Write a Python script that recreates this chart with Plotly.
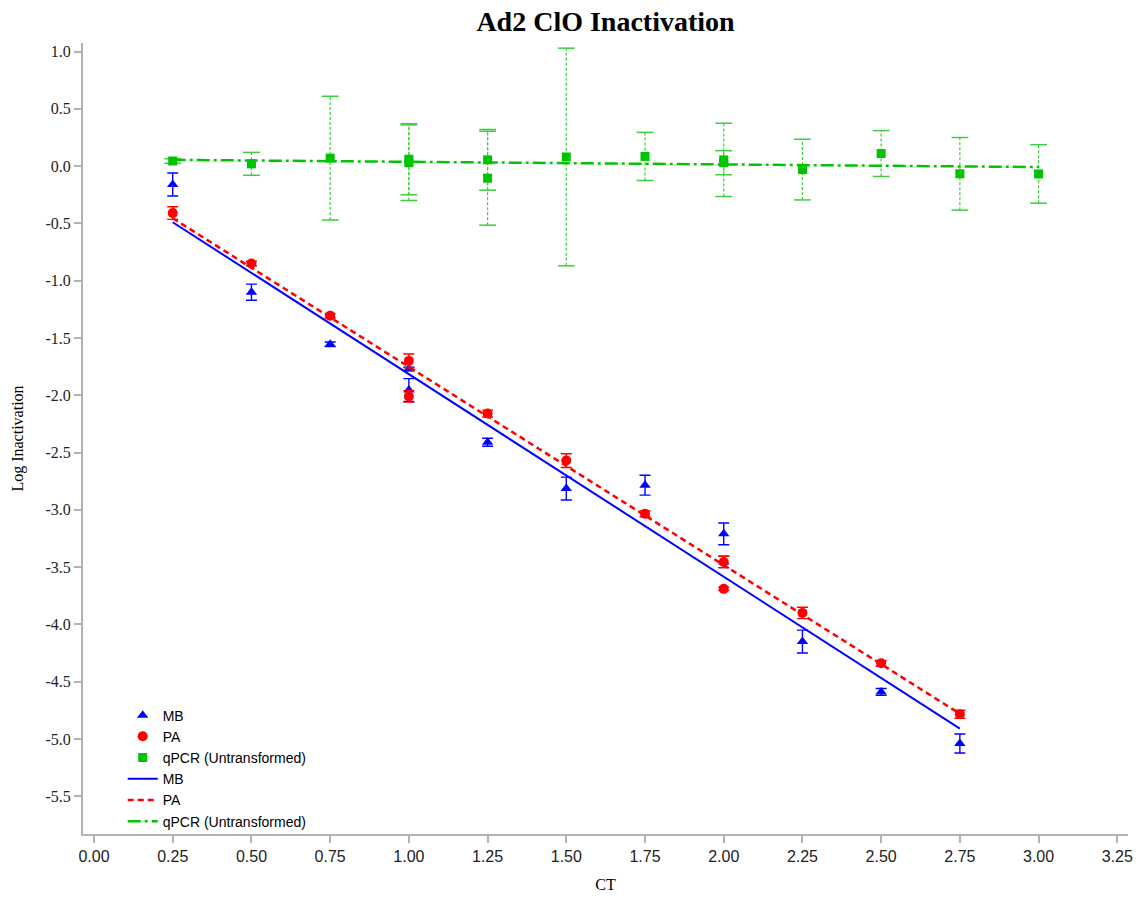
import plotly.graph_objects as go

# ---- data -------------------------------------------------------------
# MB (triangles)
mb_ct = [0.25, 0.50, 0.75, 1.00, 1.00, 1.25, 1.50, 1.75, 2.00, 2.00, 2.25, 2.50, 2.75]
mb_log = [-0.16, -1.10, -1.555, -1.77, -1.955, -2.41, -2.815, -2.785, -3.21, -3.455, -4.15, -4.59, -5.04]
mb_err = [0.10, 0.07, 0.02, 0.015, 0.10, 0.035, 0.10, 0.087, 0.095, 0.05, 0.10, 0.03, 0.083]

# PA (circles)
pa_ct = [0.25, 0.50, 0.75, 1.00, 1.00, 1.25, 1.50, 1.75, 2.00, 2.00, 2.25, 2.50, 2.75]
pa_log = [-0.41, -0.85, -1.305, -1.70, -2.01, -2.16, -2.57, -3.035, -3.455, -3.69, -3.90, -4.34, -4.785]
pa_err = [0.055, 0.02, 0.02, 0.06, 0.05, 0.03, 0.06, 0.025, 0.05, 0.015, 0.05, 0.025, 0.035]

# qPCR, untransformed (squares)
q_ct = [0.25, 0.50, 0.75, 1.00, 1.00, 1.25, 1.25, 1.50, 1.75, 2.00, 2.00, 2.25, 2.50, 2.75, 3.00]
q_log = [0.045, 0.02, 0.07, 0.06, 0.03, 0.055, -0.105, 0.08, 0.085, 0.055, 0.03, -0.03, 0.11, -0.067, -0.068]
q_err = [0.02, 0.10, 0.54, 0.31, 0.33, 0.265, 0.41, 0.95, 0.21, 0.32, 0.105, 0.265, 0.20, 0.317, 0.255]

# linear fits (end points)
mb_fit_ct = [0.25, 2.75]
mb_fit = [-0.49, -4.91]
pa_fit_ct = [0.25, 2.75]
pa_fit = [-0.455, -4.78]
q_fit_ct = [0.25, 3.00]
q_fit = [0.055, -0.008]

# axis ticks
x_ticks = [0.0, 0.25, 0.5, 0.75, 1.0, 1.25, 1.5, 1.75, 2.0, 2.25, 2.5, 2.75, 3.0, 3.25]
y_ticks = [1.0, 0.5, 0.0, -0.5, -1.0, -1.5, -2.0, -2.5, -3.0, -3.5, -4.0, -4.5, -5.0, -5.5]
y_ticktext = ["%.1f" % v for v in y_ticks]

BLUE = "#0000ff"
RED = "#ff0000"
GREEN = "#00c400"
GREEN_BAR = "#3ccf3c"
SERIF = "Liberation Serif, Times New Roman, serif"
SANS = "Liberation Sans, Arial, sans-serif"
AXIS_GRAY = "#b2b2b2"

fig = go.Figure()

# dashed vertical error bars for qPCR, with solid caps
bar_x, bar_y, cap_x, cap_y = [], [], [], []
for x, y, e in zip(q_ct, q_log, q_err):
    bar_x += [x, x, None]
    bar_y += [y - e, y + e, None]
    cap_x += [x, x]
    cap_y += [y - e, y + e]
fig.add_trace(go.Scatter(x=bar_x, y=bar_y, mode="lines", showlegend=False,
                         hoverinfo="skip",
                         line=dict(color=GREEN_BAR, width=1.2, dash="3px,2px")))
fig.add_trace(go.Scatter(x=cap_x, y=cap_y, mode="markers", showlegend=False,
                         hoverinfo="skip",
                         marker=dict(symbol="line-ew", size=12,
                                     line=dict(color=GREEN_BAR, width=1.5))))

fig.add_trace(go.Scatter(
    x=mb_ct, y=mb_log, mode="markers", name="MB",
    marker=dict(symbol="triangle-up", size=10, color=BLUE),
    error_y=dict(type="data", array=mb_err, color=BLUE, thickness=1.4, width=5.5),
))
fig.add_trace(go.Scatter(
    x=pa_ct, y=pa_log, mode="markers", name="PA",
    marker=dict(symbol="circle", size=10, color=RED),
    error_y=dict(type="data", array=pa_err, color=RED, thickness=1.4, width=5.5),
))
fig.add_trace(go.Scatter(
    x=q_ct, y=q_log, mode="markers", name="qPCR (Untransformed)",
    marker=dict(symbol="square", size=9, color=GREEN),
))

fig.add_trace(go.Scatter(x=mb_fit_ct, y=mb_fit, mode="lines", name="MB",
                         line=dict(color=BLUE, width=2)))
fig.add_trace(go.Scatter(x=pa_fit_ct, y=pa_fit, mode="lines", name="PA",
                         line=dict(color=RED, width=2.5, dash="6px,4px")))
fig.add_trace(go.Scatter(x=q_fit_ct, y=q_fit, mode="lines", name="qPCR (Untransformed)",
                         line=dict(color=GREEN, width=2.5, dash="13px,4px,3px,4px")))

fig.update_layout(
    width=1144, height=902,
    margin=dict(l=83, r=16, t=43, b=68),
    plot_bgcolor="white", paper_bgcolor="white",
    title=dict(text="<b>Ad2 ClO Inactivation</b>", x=0.5, xref="paper",
               y=1 - 21 / 902, yref="container", yanchor="middle",
               font=dict(family=SERIF, size=28, color="black")),
    legend=dict(x=0.038, y=0.170, xanchor="left", yanchor="top",
                bgcolor="rgba(0,0,0,0)", tracegroupgap=0,
                font=dict(family=SANS, size=14, color="black")),
    showlegend=True,
)
fig.update_xaxes(
    range=[-0.035, 3.284], tickvals=x_ticks, tickformat=".2f",
    showgrid=False, zeroline=False,
    showline=True, linecolor=AXIS_GRAY, linewidth=2,
    ticks="outside", ticklen=7, tickwidth=1.5, tickcolor=AXIS_GRAY,
    tickfont=dict(family=SANS, size=16, color="#222"),
    title=dict(text="CT", font=dict(family=SERIF, size=16, color="black"), standoff=15),
)
fig.update_yaxes(
    range=[-5.83, 1.075], tickvals=y_ticks, ticktext=y_ticktext,
    showgrid=False, zeroline=False,
    showline=True, linecolor=AXIS_GRAY, linewidth=2,
    ticks="outside", ticklen=7, tickwidth=1.5, tickcolor=AXIS_GRAY,
    tickfont=dict(family=SERIF, size=16, color="#222"),
    title=dict(text="Log Inactivation", font=dict(family=SERIF, size=16, color="black"),
               standoff=18),
)

fig.write_html("out.html")
